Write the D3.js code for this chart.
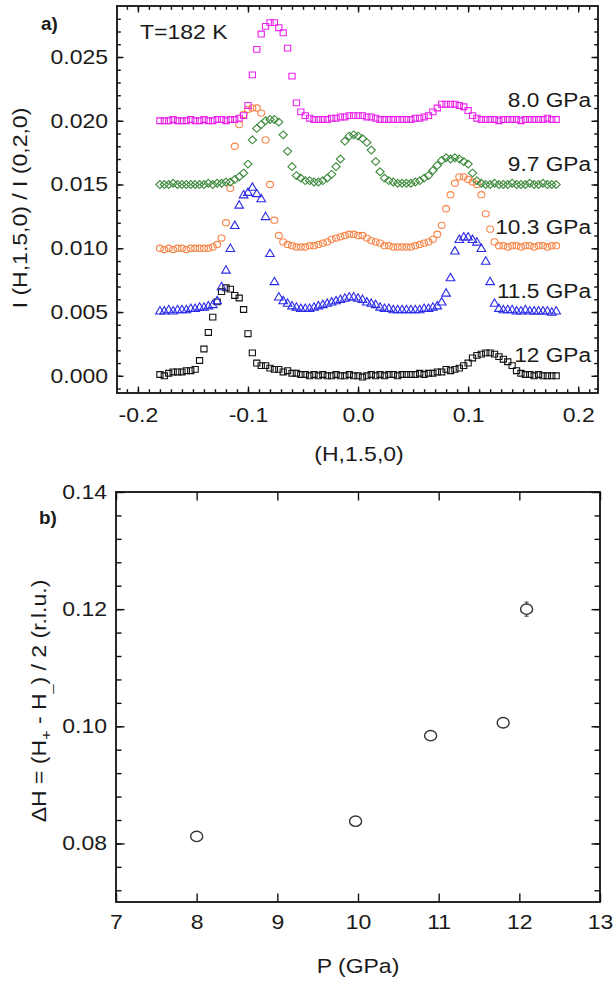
<!DOCTYPE html>
<html lang="en">
<head>
<meta charset="UTF-8">
<title>(H,1.5,0) scans and splitting vs pressure</title>
<script src="https://d3js.org/d3.v7.min.js"></script>
<style>
    body { margin: 0; background: #fff; }
    svg { display: block; }
    svg text { font-family: 'Liberation Sans', Arial, sans-serif; fill: #1a1a1a; }
    .tick text { font-size: 20px; }
    .tick line { stroke: #111; stroke-width: 1.4; }
</style>
</head>
<body>
<div id="chart"></div>
<script>
// ---- panel a) : scans along (H,1.5,0), shifted vertically ----
const hGrid = [
    -0.180, -0.176, -0.172, -0.168, -0.164, -0.160, -0.156, -0.152, -0.148, -0.144,
    -0.140, -0.136, -0.132, -0.128, -0.124, -0.120, -0.116, -0.112, -0.108, -0.104,
    -0.100, -0.096, -0.092, -0.088, -0.084, -0.080, -0.076, -0.072, -0.068, -0.064,
    -0.060, -0.056, -0.052, -0.048, -0.044, -0.040, -0.036, -0.032, -0.028, -0.024,
    -0.020, -0.016, -0.012, -0.008, -0.004, 0.000, 0.004, 0.008, 0.012, 0.016,
    0.020, 0.024, 0.028, 0.032, 0.036, 0.040, 0.044, 0.048, 0.052, 0.056,
    0.060, 0.064, 0.068, 0.072, 0.076, 0.080, 0.084, 0.088, 0.092, 0.096,
    0.100, 0.104, 0.108, 0.112, 0.116, 0.120, 0.124, 0.128, 0.132, 0.136,
    0.140, 0.144, 0.148, 0.152, 0.156, 0.160, 0.164, 0.168, 0.172, 0.176,
    0.180
];

const scan12 = [
    0.0001, 0.0000, 0.0002, 0.0003, 0.0003, 0.0003, 0.0004, 0.0004, 0.0005, 0.0012,
    0.0021, 0.0034, 0.0046, 0.0058, 0.0066, 0.0069, 0.0068, 0.0063, 0.0061, 0.0052,
    0.0033, 0.0018, 0.0010, 0.0008, 0.0008, 0.0006, 0.0005, 0.0005, 0.0003, 0.0004,
    0.0002, 0.0002, 0.0001, 0.0001, 0.0000, 0.0001, 0.0000, 0.0001, 0.0000, 0.0000,
    0.0001, 0.0000, 0.0000, 0.0001, 0.0000, 0.0000, -0.0001, 0.0000, 0.0001, 0.0000,
    0.0001, 0.0000, 0.0001, 0.0001, 0.0000, 0.0001, 0.0001, 0.0001, 0.0001, 0.0002,
    0.0001, 0.0002, 0.0002, 0.0003, 0.0003, 0.0005, 0.0004, 0.0005, 0.0006, 0.0008,
    0.0010, 0.0014, 0.0016, 0.0017, 0.0018, 0.0018, 0.0017, 0.0015, 0.0013, 0.0011,
    0.0008, 0.0004, 0.0002, 0.0001, 0.0001, 0.0000, 0.0001, 0.0000, 0.0000, 0.0000,
    0.0000
];

const scan115 = [
    0.0051, 0.0051, 0.0052, 0.0051, 0.0052, 0.0052, 0.0052, 0.0053, 0.0053, 0.0054,
    0.0054, 0.0055, 0.0056, 0.0059, 0.0070, 0.0083, 0.0100, 0.0118, 0.0134, 0.0142,
    0.0144, 0.0148, 0.0143, 0.0139, 0.0125, 0.0096, 0.0074, 0.0062, 0.0059, 0.0057,
    0.0055, 0.0054, 0.0053, 0.0053, 0.0053, 0.0054, 0.0055, 0.0056, 0.0057, 0.0058,
    0.0059, 0.0060, 0.0061, 0.0062, 0.0062, 0.0061, 0.0060, 0.0058, 0.0057, 0.0056,
    0.0054, 0.0053, 0.0053, 0.0052, 0.0052, 0.0052, 0.0052, 0.0052, 0.0052, 0.0052,
    0.0053, 0.0053, 0.0054, 0.0055, 0.0058, 0.0065, 0.0077, 0.0098, 0.0107, 0.0109,
    0.0109, 0.0107, 0.0105, 0.0100, 0.0090, 0.0074, 0.0057, 0.0053, 0.0052, 0.0052,
    0.0052, 0.0051, 0.0051, 0.0052, 0.0051, 0.0051, 0.0051, 0.0051, 0.0051, 0.0050,
    0.0051
];

const scan103 = [
    0.0100, 0.0099, 0.0100, 0.0099, 0.0100, 0.0100, 0.0099, 0.0100, 0.0100, 0.0100,
    0.0100, 0.0100, 0.0101, 0.0103, 0.0108, 0.0120, 0.0147, 0.0180, 0.0197, 0.0205,
    0.0209, 0.0210, 0.0210, 0.0206, 0.0185, 0.0150, 0.0122, 0.0110, 0.0105, 0.0103,
    0.0102, 0.0101, 0.0101, 0.0101, 0.0102, 0.0102, 0.0103, 0.0104, 0.0105, 0.0107,
    0.0108, 0.0109, 0.0110, 0.0111, 0.0111, 0.0110, 0.0110, 0.0108, 0.0106, 0.0105,
    0.0104, 0.0102, 0.0102, 0.0101, 0.0101, 0.0101, 0.0101, 0.0101, 0.0102, 0.0103,
    0.0104, 0.0105, 0.0107, 0.0111, 0.0118, 0.0131, 0.0142, 0.0151, 0.0156, 0.0156,
    0.0154, 0.0152, 0.0150, 0.0142, 0.0127, 0.0115, 0.0105, 0.0102, 0.0102, 0.0101,
    0.0102, 0.0102, 0.0101, 0.0102, 0.0102, 0.0101, 0.0102, 0.0102, 0.0101, 0.0102,
    0.0102
];

const scan97 = [
    0.0150, 0.0150, 0.0150, 0.0151, 0.0150, 0.0150, 0.0150, 0.0150, 0.0150, 0.0150,
    0.0150, 0.0151, 0.0150, 0.0151, 0.0151, 0.0152, 0.0152, 0.0154, 0.0156, 0.0159,
    0.0166, 0.0185, 0.0194, 0.0197, 0.0200, 0.0201, 0.0201, 0.0199, 0.0189, 0.0176,
    0.0164, 0.0157, 0.0155, 0.0153, 0.0153, 0.0152, 0.0152, 0.0153, 0.0155, 0.0158,
    0.0164, 0.0170, 0.0184, 0.0188, 0.0189, 0.0188, 0.0186, 0.0183, 0.0177, 0.0168,
    0.0160, 0.0155, 0.0153, 0.0152, 0.0151, 0.0151, 0.0151, 0.0151, 0.0152, 0.0153,
    0.0155, 0.0157, 0.0161, 0.0165, 0.0169, 0.0171, 0.0170, 0.0171, 0.0170, 0.0168,
    0.0166, 0.0159, 0.0153, 0.0151, 0.0150, 0.0150, 0.0151, 0.0150, 0.0150, 0.0150,
    0.0151, 0.0150, 0.0150, 0.0150, 0.0151, 0.0150, 0.0150, 0.0151, 0.0150, 0.0150,
    0.0150
];

const scan80 = [
    0.0200, 0.0200, 0.0200, 0.0201, 0.0200, 0.0200, 0.0200, 0.0201, 0.0200, 0.0200,
    0.0201, 0.0200, 0.0200, 0.0201, 0.0201, 0.0200, 0.0201, 0.0201, 0.0202, 0.0204,
    0.0212, 0.0236, 0.0256, 0.0268, 0.0274, 0.0277, 0.0277, 0.0273, 0.0269, 0.0257,
    0.0235, 0.0214, 0.0207, 0.0204, 0.0202, 0.0201, 0.0201, 0.0201, 0.0201, 0.0202,
    0.0202, 0.0203, 0.0203, 0.0204, 0.0204, 0.0204, 0.0204, 0.0203, 0.0203, 0.0202,
    0.0201, 0.0201, 0.0201, 0.0201, 0.0201, 0.0201, 0.0201, 0.0201, 0.0202, 0.0202,
    0.0203, 0.0204, 0.0207, 0.0210, 0.0213, 0.0213, 0.0213, 0.0213, 0.0212, 0.0211,
    0.0208, 0.0204, 0.0202, 0.0201, 0.0201, 0.0201, 0.0201, 0.0200, 0.0201, 0.0201,
    0.0201, 0.0201, 0.0200, 0.0201, 0.0201, 0.0201, 0.0201, 0.0201, 0.0202, 0.0201,
    0.0201
];

const scanLabels = ["12 GPa", "11.5 GPa", "10.3 GPa", "9.7 GPa", "8.0 GPa"];
const scanOffsets = [0.000, 0.005, 0.010, 0.015, 0.020];
const scanTicksX = [-0.2, -0.1, 0.0, 0.1, 0.2];
const scanTicksY = [0.000, 0.005, 0.010, 0.015, 0.020, 0.025];

// ---- panel b) : half splitting vs pressure ----
const pressures = [8.0, 9.97, 10.9, 11.8, 12.09];
const deltaH = [0.0812, 0.0838, 0.0984, 0.1006, 0.1200];
const deltaHErr = [0.0006, 0.0006, 0.0008, 0.0006, 0.0012];
const pressTicks = [7, 8, 9, 10, 11, 12, 13];
const dhTicks = [0.08, 0.10, 0.12, 0.14];

const W = 613, H = 984;
const SX = 1.15; // the original lettering is a bit wider than Arial

const svg = d3.select("#chart").append("svg")
    .attr("width", W)
    .attr("height", H);

svg.append("rect").attr("width", W).attr("height", H).attr("fill", "#fff");

function label(x, y, txt, opts = {}) {
    const rot = opts.rotate ? " rotate(-90)" : "";
    const t = svg.append("text")
        .attr("transform", `translate(${x},${y})${rot} scale(${opts.sx || SX},1)`)
        .attr("text-anchor", opts.anchor || "start")
        .style("font-size", (opts.size || 20) + "px")
        .style("font-weight", opts.bold ? "bold" : "normal");
    if (txt) t.text(txt);
    return t;
}

function frameAxes(g, x, y, opt) {
    const [x0, x1] = x.range();
    const [y0, y1] = y.range();

    // minor ticks first
    if (opt.xMinor) {
        g.append("g").attr("transform", `translate(0,${y0})`)
            .call(d3.axisBottom(x).tickValues(opt.xMinor).tickSize(-opt.minorLen).tickFormat(""))
            .call(s => s.select(".domain").remove());
        g.append("g").attr("transform", `translate(0,${y1})`)
            .call(d3.axisTop(x).tickValues(opt.xMinor).tickSize(-opt.minorLen).tickFormat(""))
            .call(s => s.select(".domain").remove());
    }
    if (opt.yMinor) {
        g.append("g").attr("transform", `translate(${x0},0)`)
            .call(d3.axisLeft(y).tickValues(opt.yMinor).tickSize(-opt.minorLen).tickFormat(""))
            .call(s => s.select(".domain").remove());
        g.append("g").attr("transform", `translate(${x1},0)`)
            .call(d3.axisRight(y).tickValues(opt.yMinor).tickSize(-opt.minorLen).tickFormat(""))
            .call(s => s.select(".domain").remove());
    }

    // major ticks with labels on bottom / left
    g.append("g").attr("transform", `translate(0,${y0})`)
        .call(d3.axisBottom(x).tickValues(opt.xTicks).tickSize(-opt.majorLen)
            .tickPadding(opt.xPad).tickFormat(opt.xFmt))
        .call(s => s.select(".domain").remove())
        .call(s => s.selectAll("text").attr("transform", `scale(${SX},1)`));
    g.append("g").attr("transform", `translate(0,${y1})`)
        .call(d3.axisTop(x).tickValues(opt.xTicks).tickSize(-opt.majorLen).tickFormat(""))
        .call(s => s.select(".domain").remove());
    g.append("g").attr("transform", `translate(${x0},0)`)
        .call(d3.axisLeft(y).tickValues(opt.yTicks).tickSize(-opt.majorLen)
            .tickPadding(opt.yPad).tickFormat(opt.yFmt))
        .call(s => s.select(".domain").remove())
        .call(s => s.selectAll("text")
            .attr("x", -opt.yPad / SX)
            .attr("transform", `scale(${SX},1)`));
    g.append("g").attr("transform", `translate(${x1},0)`)
        .call(d3.axisRight(y).tickValues(opt.yTicks).tickSize(-opt.majorLen).tickFormat(""))
        .call(s => s.select(".domain").remove());

    g.append("rect")
        .attr("x", x0).attr("y", y1)
        .attr("width", x1 - x0).attr("height", y0 - y1)
        .attr("fill", "none")
        .attr("stroke", "#111")
        .attr("stroke-width", 1.8);
}

// ================= panel a =================
const xA = d3.scaleLinear().domain([-0.219, 0.218]).range([117, 598]);
const yA = d3.scaleLinear().domain([-0.00135, 0.0290]).range([393, 6]);

const gA = svg.append("g");

const scans = [
    { values: scan12,  color: "#111111", shape: "square" },
    { values: scan115, color: "#2a2ae8", shape: "triangle" },
    { values: scan103, color: "#f7864a", shape: "circle" },
    { values: scan97,  color: "#3d8a3d", shape: "diamond" },
    { values: scan80,  color: "#ea22ea", shape: "square" }
];

const shapes = {
    square: "M-3.1,-2.9H3.1V2.9H-3.1Z",
    triangle: "M0,-4.2L4.3,3.2H-4.3Z",
    diamond: "M0,-3.9L4.1,0L0,3.9L-4.1,0Z",
    circle: "M-3.5,0A3.5,3.1 0 1,0 3.5,0A3.5,3.1 0 1,0 -3.5,0Z"
};

scans.forEach(s => {
    gA.append("g")
        .selectAll("path")
        .data(hGrid.map((h, i) => [h, s.values[i]]))
        .join("path")
        .attr("transform", d => `translate(${xA(d[0])},${yA(d[1])})`)
        .attr("d", shapes[s.shape])
        .attr("fill", "none")
        .attr("stroke", s.color)
        .attr("stroke-width", 1.1);
});

frameAxes(gA, xA, yA, {
    xTicks: scanTicksX,
    yTicks: scanTicksY,
    xMinor: d3.range(-21, 22).map(d => d / 100),
    yMinor: d3.range(-1, 29).map(d => d / 1000),
    majorLen: 6.5,
    minorLen: 3.8,
    xPad: 15,
    yPad: 9,
    xFmt: d => d.toFixed(1),
    yFmt: d => d.toFixed(3)
});

// scan labels, right aligned above each baseline
scanLabels.forEach((t, i) => {
    label(591, yA(scanOffsets[i]) - 14, t, { anchor: "end", size: 21, sx: 1.08 });
});

label(41, 30, "a)", { bold: true, size: 18, sx: 1.05 });
label(140, 39, "T=182 K");
label(359, 461, "(H,1.5,0)", { anchor: "middle" });
label(27, 208, "I (H,1.5,0) / I (0,2,0)", { anchor: "middle", rotate: true });

// ================= panel b =================
const xB = d3.scaleLinear().domain([7, 13]).range([116, 600]);
const yB = d3.scaleLinear().domain([0.07, 0.14]).range([902, 492]);

const gB = svg.append("g");

frameAxes(gB, xB, yB, {
    xTicks: pressTicks,
    yTicks: dhTicks,
    yMinor: d3.range(18, 35).map(d => d * 0.004),
    majorLen: 8.5,
    minorLen: 5.5,
    xPad: 13,
    yPad: 9,
    xFmt: d => d,
    yFmt: d => d.toFixed(2)
});

const pts = pressures.map((p, i) => ({ p, v: deltaH[i], e: deltaHErr[i] }));

const pg = gB.append("g").selectAll("g").data(pts).join("g")
    .attr("transform", d => `translate(${xB(d.p)},${yB(d.v)})`);

pg.append("path")
    .attr("d", d => {
        const h = yB(d.v - d.e) - yB(d.v);
        return `M0,${-h}V${h}M-2,${-h}H2M-2,${h}H2`;
    })
    .attr("stroke", "#333")
    .attr("stroke-width", 1);

pg.append("ellipse")
    .attr("rx", 6)
    .attr("ry", 5.2)
    .attr("fill", "#fff")
    .attr("stroke", "#333")
    .attr("stroke-width", 1.4);

label(39, 524, "b)", { bold: true, size: 18, sx: 1.05 });
label(358, 973, "P (GPa)", { anchor: "middle" });

const yl = label(46, 701, null, { anchor: "middle", rotate: true });
yl.append("tspan").text("\u0394H = (H");
yl.append("tspan").attr("dy", 5).style("font-size", "14px").text("+");
yl.append("tspan").attr("dy", -5).text(" - H");
yl.append("tspan").attr("dy", 5).style("font-size", "14px").text("_");
yl.append("tspan").attr("dy", -5).text(") / 2 (r.l.u.)");
</script>
</body>
</html>
